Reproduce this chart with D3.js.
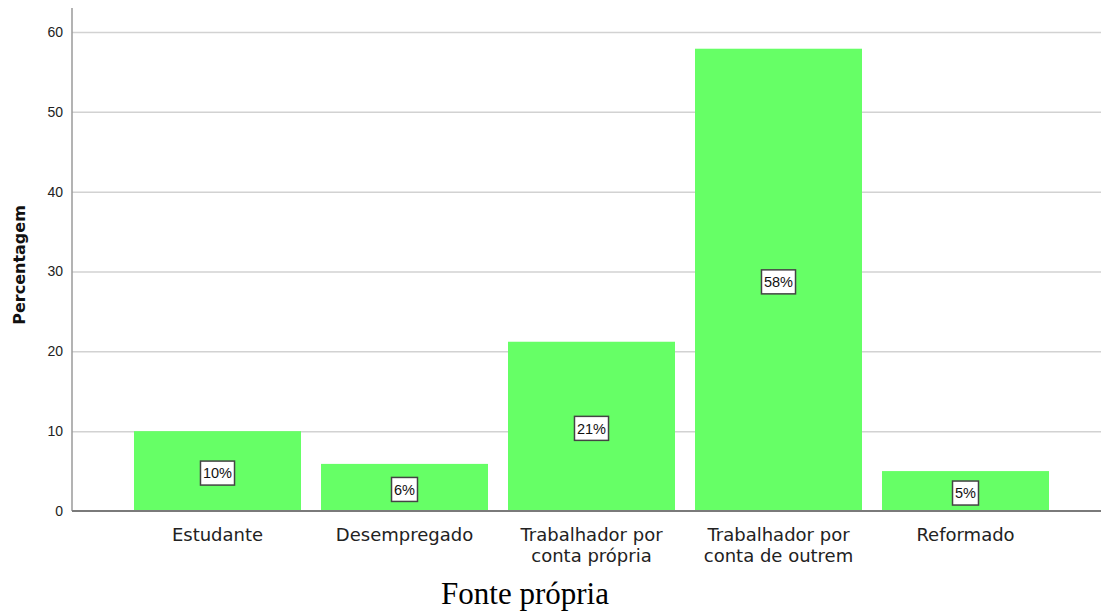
<!DOCTYPE html>
<html><head><meta charset="utf-8">
<script src="https://cdn.jsdelivr.net/npm/d3@7"></script>
<style>body{margin:0;background:#fff}svg{display:block}</style>
</head><body>
<svg id="c" width="1101" height="612"></svg>
<script>
const categories = [["Estudante"], ["Desempregado"], ["Trabalhador por", "conta própria"], ["Trabalhador por", "conta de outrem"], ["Reformado"]];
const values = [10.0, 5.9, 21.2, 57.9, 5.0];
const labels = ["10%", "6%", "21%", "58%", "5%"];
const yTicks = [0, 10, 20, 30, 40, 50, 60];

const svg = d3.select("#c");
const keys = categories.map(c => c.join(" "));
const x = d3.scaleBand().domain(keys).range([124, 1059]).paddingInner(0.107).paddingOuter(0.0535);
const y = d3.scaleLinear().domain([0, 63]).range([511, 8]);
const axisX = 72, right = 1101;

// gridlines
svg.append("g").selectAll("line").data(yTicks.filter(d => d > 0)).join("line")
  .attr("x1", axisX).attr("x2", right)
  .attr("y1", d => y(d) + 0.5).attr("y2", d => y(d) + 0.5)
  .attr("stroke", "#d2d2d2").attr("stroke-width", 1.5);

// bars
svg.append("g").selectAll("rect").data(values).join("rect")
  .attr("x", (d, i) => x(keys[i])).attr("width", x.bandwidth())
  .attr("y", d => y(d)).attr("height", d => y(0) - y(d))
  .attr("fill", "#66ff66");

// y axis
const yAxis = d3.axisLeft(y).tickValues(yTicks).tickSize(0).tickPadding(9).tickFormat(d3.format("d"));
const gy = svg.append("g").attr("transform", `translate(${axisX},0)`).call(yAxis);
gy.select(".domain").remove();
gy.selectAll("text").attr("font-family", "Liberation Sans, Arial").attr("font-size", 14).attr("fill", "#222");
svg.append("line").attr("x1", axisX).attr("x2", axisX).attr("y1", 8).attr("y2", 511)
  .attr("stroke", "#9a9a9a").attr("stroke-width", 1.5);

// x axis
const xAxis = d3.axisBottom(x).tickSize(0).tickFormat(() => "");
const gx = svg.append("g").attr("transform", `translate(0,${y(0)})`).call(xAxis);
gx.select(".domain").remove();
svg.append("line").attr("x1", axisX).attr("x2", right).attr("y1", 511).attr("y2", 511)
  .attr("stroke", "#7a7a7a").attr("stroke-width", 1.8);

gx.selectAll(".tick").each(function(k, i) {
  const t = d3.select(this).append("text").attr("text-anchor", "middle")
    .attr("font-family", "DejaVu Sans").attr("font-size", 18).attr("fill", "#222");
  categories[i].forEach((line, j) => {
    t.append("tspan").attr("x", 0).attr("y", 30 + j * 20.5).text(line);
  });
});

// value labels
const lg = svg.append("g").selectAll("g").data(values).join("g")
  .attr("transform", (d, i) => `translate(${x(keys[i]) + x.bandwidth() / 2},${y(d / 2) + 2})`);
lg.each(function(d, i) {
  const g = d3.select(this);
  const t = g.append("text").attr("text-anchor", "middle").attr("dy", "0.36em")
    .attr("font-family", "Liberation Sans, Arial").attr("font-size", 14.5).attr("fill", "#111").text(labels[i]);
  const w = t.node().getComputedTextLength() + 5;
  g.insert("rect", "text").attr("x", -w / 2).attr("y", -12).attr("width", w).attr("height", 24)
    .attr("fill", "#fff").attr("stroke", "#444").attr("stroke-width", 1.5);
});

// y title
svg.append("text").attr("transform", "translate(25,265) rotate(-90)")
  .attr("text-anchor", "middle").attr("font-family", "DejaVu Sans").attr("font-weight", "bold")
  .attr("font-size", 16).attr("fill", "#111").text("Percentagem");

// caption
svg.append("text").attr("x", 525).attr("y", 604).attr("text-anchor", "middle")
  .attr("font-family", "Liberation Serif").attr("font-size", 31).attr("fill", "#000").text("Fonte própria");
</script>
</body></html>
